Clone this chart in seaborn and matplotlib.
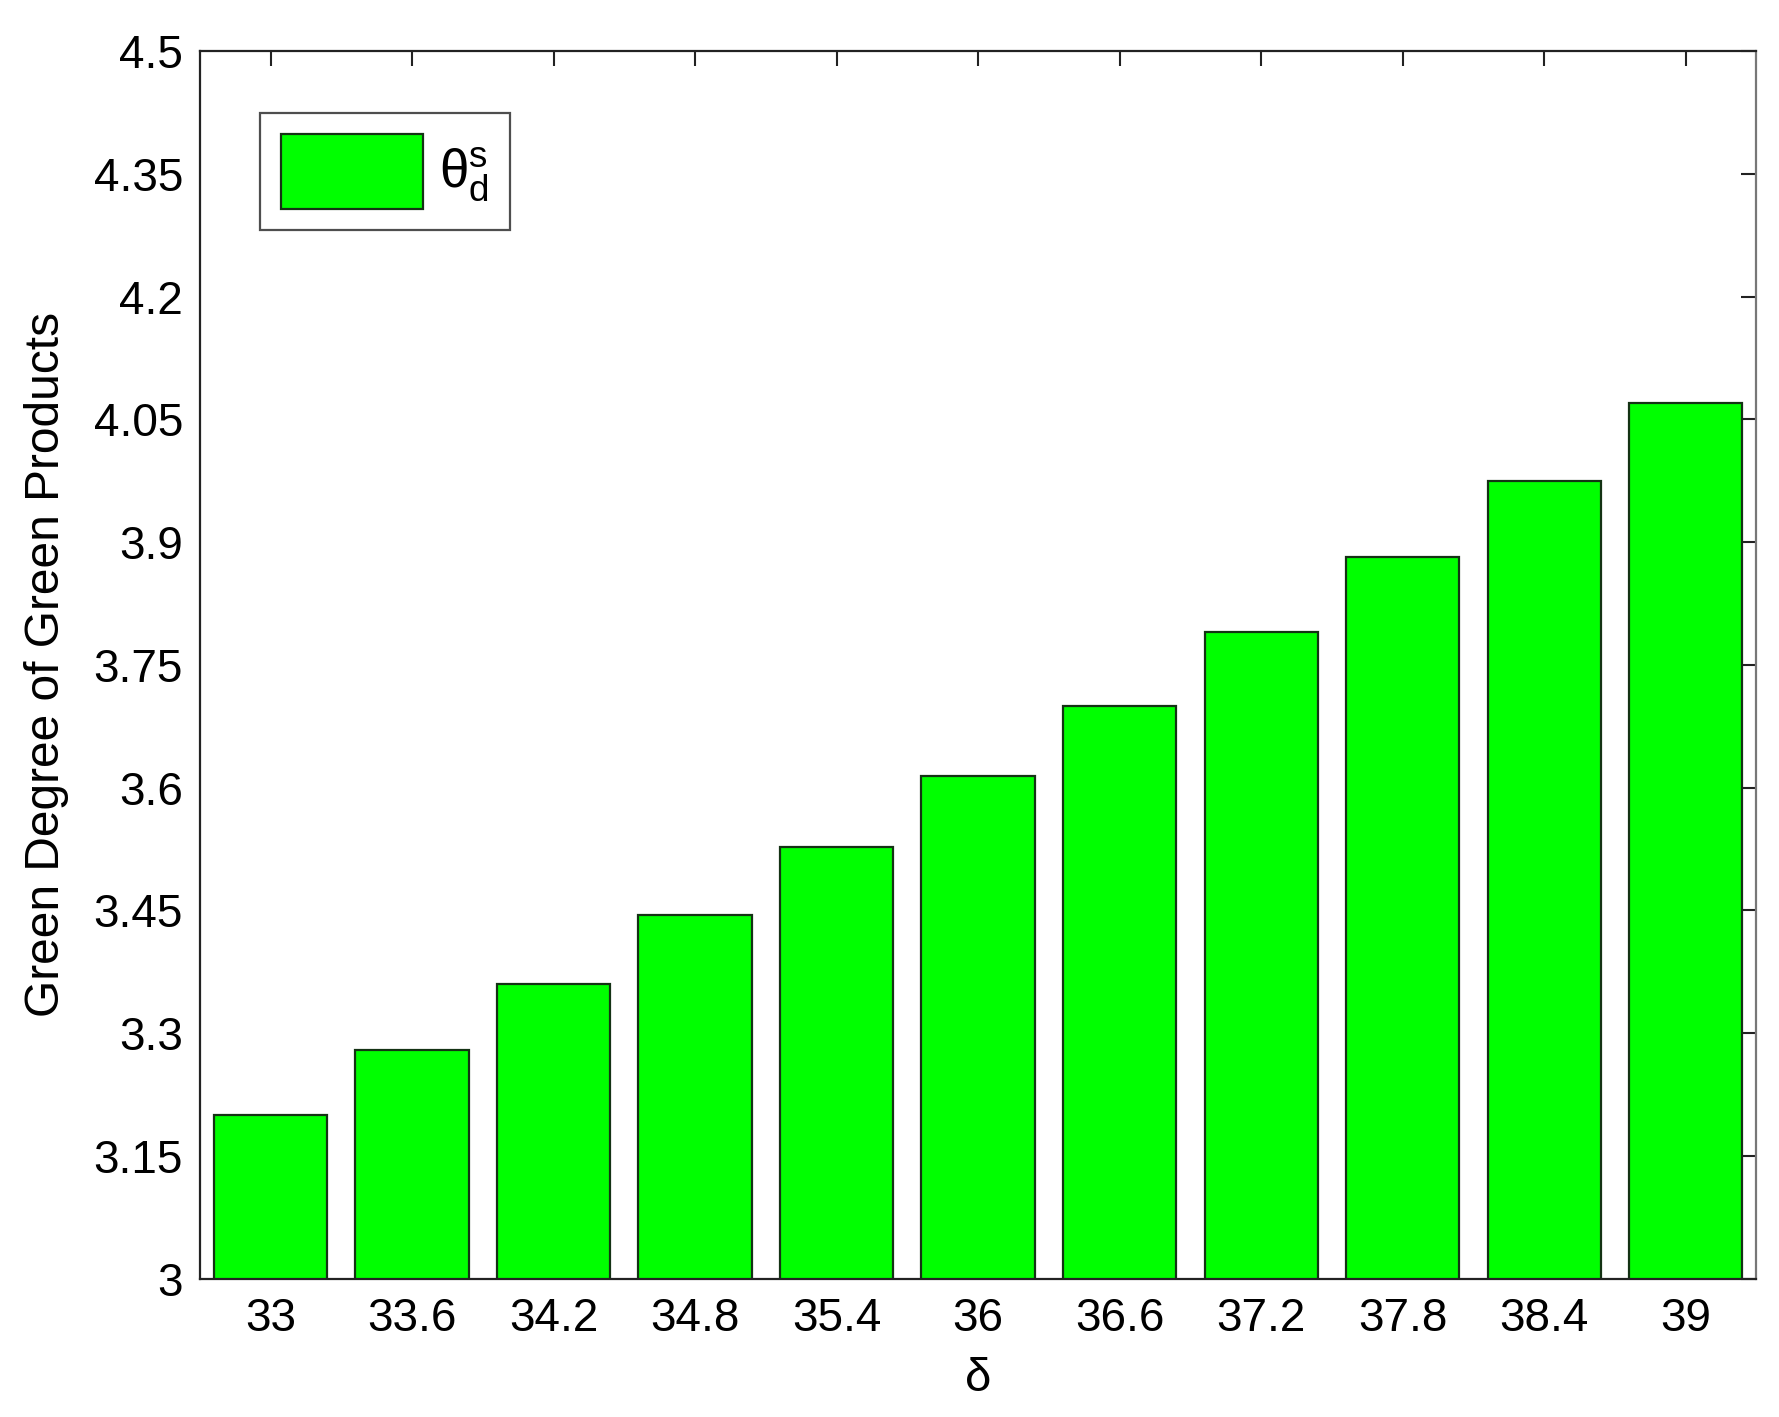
import matplotlib
matplotlib.use("Agg")
import matplotlib.pyplot as plt
import seaborn as sns
import numpy as np

# delta values (x categories) and green degree values
delta_labels = ["33", "33.6", "34.2", "34.8", "35.4", "36", "36.6", "37.2", "37.8", "38.4", "39"]
green_degree = [3.200, 3.280, 3.360, 3.444, 3.528, 3.614, 3.700, 3.790, 3.882, 3.975, 4.070]
y_ticks = [3, 3.15, 3.3, 3.45, 3.6, 3.75, 3.9, 4.05, 4.2, 4.35, 4.5]
y_ticklabels = ["3", "3.15", "3.3", "3.45", "3.6", "3.75", "3.9", "4.05", "4.2", "4.35", "4.5"]

sns.set_style("white")
plt.rcParams["font.family"] = ["Liberation Sans", "DejaVu Sans"]
plt.rcParams["text.color"] = "black"
plt.rcParams["axes.labelcolor"] = "black"
plt.rcParams["xtick.color"] = "black"
plt.rcParams["ytick.color"] = "black"
plt.rcParams["mathtext.fontset"] = "custom"
plt.rcParams["mathtext.rm"] = "Liberation Sans"
plt.rcParams["mathtext.it"] = "Liberation Sans"

fig = plt.figure(figsize=(17.79, 14.17), dpi=100)
ax = fig.add_axes([0.1123, 0.0976, 0.875, 0.8664])

sns.barplot(
    x=delta_labels,
    y=green_degree,
    color="#00ff00",
    saturation=1,
    edgecolor="#143214",
    linewidth=1.6,
    width=0.8,
    label=r"$\mathregular{\theta_d^s}$",
    ax=ax,
)

ax.set_ylim(3, 4.5)
ax.set_xlim(-0.5, len(delta_labels) - 0.5)
ax.set_yticks(y_ticks)
ax.set_yticklabels(y_ticklabels)

for lab in ax.get_xticklabels() + ax.get_yticklabels():
    lab.set_fontsize(33)
    lab.set_color("black")

ax.tick_params(axis="both", direction="in", top=True, right=True,
               length=11, width=1.5, color="#222222")
ax.tick_params(axis="x", pad=13)
ax.tick_params(axis="y", pad=12)

for side, spine in ax.spines.items():
    spine.set_visible(True)
    spine.set_linewidth(1.6)
    spine.set_color("#222222" if side != "right" else "#777777")

ax.set_xlabel("δ", fontsize=34, labelpad=12, color="black")
ax.set_ylabel("Green Degree of Green Products", fontsize=34.5, labelpad=18, color="black")

leg = ax.legend(
    loc="upper left",
    bbox_to_anchor=(0.0385, 0.9495),
    borderaxespad=0,
    fontsize=38,
    frameon=True,
    fancybox=False,
    edgecolor="#222222",
    handlelength=2.7,
    handleheight=1.8,
    borderpad=0.4,
    handletextpad=0.3,
)
leg.get_frame().set_linewidth(1.6)

fig.savefig("out.png", dpi=100, facecolor="white")
